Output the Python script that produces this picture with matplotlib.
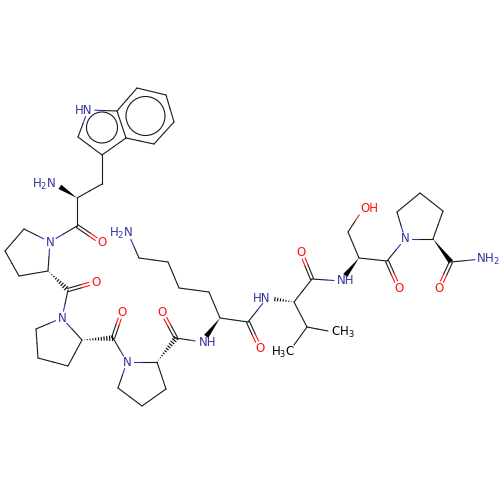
import matplotlib
matplotlib.use('Agg')
import matplotlib.pyplot as plt
from matplotlib.patches import Circle, Polygon
import numpy as np

plt.rcParams['mathtext.default'] = 'regular'

# atoms, pixel positions
atom_x = [137, 166, 174, 154, 126, 117, 88, 78, 102, 102, 77, 54, 77, 102, 50, 24, 5, 19, 48, 68,
          96, 62, 36, 38, 68, 82, 113, 122, 127, 118, 142, 166, 157, 176, 162, 202, 220, 209, 179, 168,
          139, 128, 248, 260, 267, 294, 312, 301, 341, 359, 348, 363, 387, 399, 405, 397, 420, 443, 433, 451,
          439, 482, 307, 328, 294]
atom_y = [88, 95, 122, 144, 138, 111, 110, 137, 155, 184, 198, 183, 226, 243, 242, 229, 251, 276, 271, 290,
          282, 318, 329, 358, 366, 340, 338, 312, 362, 388, 406, 389, 362, 338, 312, 342, 318, 292, 288, 262,
          258, 233, 322, 348, 298, 302, 279, 252, 281, 258, 232, 209, 261, 288, 239, 212, 193, 211, 239, 262,
          288, 259, 327, 331, 345]
atom_el = ['C'] * 65
for i in [6, 11, 14, 21, 28, 35, 41, 44, 48, 54, 61]:
    atom_el[i] = 'N'
for i in [13, 20, 27, 34, 43, 47, 51, 53, 60]:
    atom_el[i] = 'O'

single_bonds = [(0, 1), (1, 2), (2, 3), (3, 4), (4, 5), (5, 0), (5, 6), (6, 7), (7, 8), (8, 4), (8, 9), (9, 10),
                (10, 12), (12, 14), (14, 15), (15, 16), (16, 17), (17, 18), (18, 14), (19, 21), (21, 22),
                (22, 23), (23, 24), (24, 25), (25, 21), (26, 28), (28, 29), (29, 30), (30, 31), (31, 32),
                (32, 28), (33, 35), (36, 37), (37, 38), (38, 39), (39, 40), (40, 41), (36, 42), (42, 44),
                (45, 46), (46, 48), (49, 50), (50, 51), (49, 52), (52, 54), (54, 55), (55, 56), (56, 57),
                (57, 58), (58, 54), (59, 61), (45, 62), (62, 63), (62, 64)]
double_bonds = [(12, 13), (19, 20), (26, 27), (33, 34), (42, 43), (46, 47), (52, 53), (59, 60)]
wedge_bonds = [(10, 11), (36, 35), (49, 48), (58, 59)]
hash_bonds = [(18, 19), (25, 26), (32, 33), (45, 44)]

# ring circles: centre x, centre y, radius
circle_x = [145.5, 102]
circle_y = [116, 127.5]
circle_r = [19.5, 15.5]

# labels: text, centre x, centre y, colour key
label_text = ['HN', 'H$_2$N', 'O', 'N', 'O', 'N', 'O', 'N', 'O', 'NH', 'H$_2$N', 'O', 'HN', 'O', 'NH',
              'OH', 'O', 'N', 'O', 'NH$_2$', 'CH$_3$', 'H$_3$C']
label_x = [84, 44, 102, 50, 96, 62, 122, 127, 162, 208, 121, 260, 262, 301, 346, 369, 399, 405, 439, 488, 343, 283]
label_y = [111, 184, 243, 243, 282, 318, 312, 362, 312, 342, 233, 348, 298, 252, 281, 209, 288, 239, 288, 259, 332, 352]
label_el = ['N', 'N', 'O', 'N', 'O', 'N', 'O', 'N', 'O', 'N', 'N', 'O', 'N', 'O', 'N',
            'O', 'O', 'N', 'O', 'N', 'C', 'C']

colours = {'C': '#1a1a1a', 'N': '#3333a0', 'O': '#ff1010'}
gaps = {'C': 0, 'N': 7, 'O': 7}
lw = 0.8


def end_points(a, b):
    p = np.array([atom_x[a], atom_y[a]], dtype=float)
    q = np.array([atom_x[b], atom_y[b]], dtype=float)
    return p, q


def draw_line(ax, a, b, shift=0.0):
    # half coloured bond, cut back where an atom label sits
    p, q = end_points(a, b)
    d = (q - p) / np.linalg.norm(q - p)
    n = np.array([-d[1], d[0]])
    s = p + d * gaps[atom_el[a]] + n * shift
    e = q - d * gaps[atom_el[b]] + n * shift
    m = (p + q) / 2 + n * shift
    ax.plot([s[0], m[0]], [s[1], m[1]], color=colours[atom_el[a]], lw=lw, solid_capstyle='round')
    ax.plot([m[0], e[0]], [m[1], e[1]], color=colours[atom_el[b]], lw=lw, solid_capstyle='round')


fig = plt.figure(figsize=(5, 5), dpi=100)
ax = fig.add_axes([0, 0, 1, 1])
ax.set_xlim(0, 500)
ax.set_ylim(500, 0)
ax.axis('off')

for a, b in single_bonds:
    draw_line(ax, a, b)
for a, b in double_bonds:
    draw_line(ax, a, b, 1.6)
    draw_line(ax, a, b, -1.6)

for a, b in wedge_bonds:
    p, q = end_points(a, b)
    d = (q - p) / np.linalg.norm(q - p)
    n = np.array([-d[1], d[0]])
    tip = q - d * gaps[atom_el[b]]
    ax.add_patch(Polygon([p, tip + n * 2.6, tip - n * 2.6], closed=True, color='black', lw=0))

for a, b in hash_bonds:
    p, q = end_points(a, b)
    length = np.linalg.norm(q - p)
    d = (q - p) / length
    n = np.array([-d[1], d[0]])
    usable = length - gaps[atom_el[b]]
    for t in np.arange(2.5, usable, 2.8):
        w = 3.0 * t / length
        c = p + d * t
        ax.plot([c[0] - n[0] * w, c[0] + n[0] * w], [c[1] - n[1] * w, c[1] + n[1] * w],
                color='black', lw=0.8, solid_capstyle='butt')

for cx, cy, r in zip(circle_x, circle_y, circle_r):
    ax.add_patch(Circle((cx, cy), r, fill=False, ec=colours['C'], lw=lw))

for t, x, y, el in zip(label_text, label_x, label_y, label_el):
    ax.text(x, y, t, color=colours[el] if el != 'C' else 'black', fontsize=8.5, ha='center', va='center',
            family='DejaVu Sans')

fig.savefig('out.png', dpi=100, facecolor='white')
